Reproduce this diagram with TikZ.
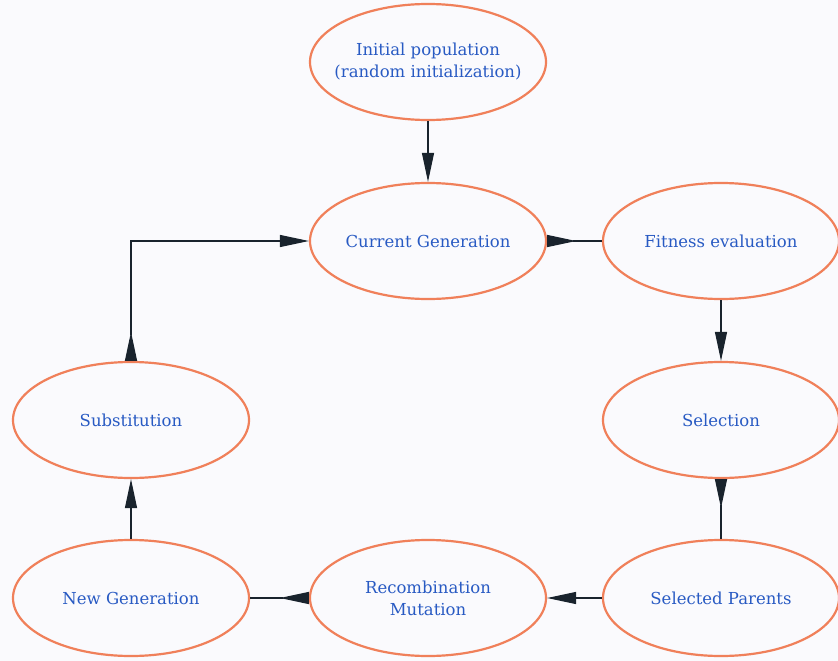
\documentclass[tikz,border=0pt]{standalone}
\usepackage{fontspec}
\setmainfont{DejaVu Serif}
\usetikzlibrary{arrows.meta,shapes.geometric}
\definecolor{edgeor}{RGB}{240,128,90}
\definecolor{txtblue}{RGB}{40,90,195}
\definecolor{linec}{RGB}{25,35,45}
\definecolor{bgc}{RGB}{250,250,253}
\begin{document}
\begin{tikzpicture}[x=1pt,y=-1pt,
  state/.style={ellipse, draw=edgeor, line width=2.2pt, minimum width=236pt, minimum height=116pt, inner sep=0pt, font=\fontsize{16.5}{22}\selectfont, text=txtblue, align=center},
  conn/.style={draw=linec, line width=1.2pt, -{Triangle[length=29pt,width=12pt]}},
  rsconn/.style={draw=linec, line width=1.2pt, {Triangle[length=29pt,width=12pt,reversed]}-},
  bothconn/.style={draw=linec, line width=1.2pt, {Triangle[length=29pt,width=12pt,reversed]}-{Triangle[length=29pt,width=12pt]}}]
\fill[bgc] (0,0) rectangle (838,661);
\useasboundingbox (0,0) rectangle (838,661);
\node[state, inner xsep=-16pt] (init) at (428,62) {Initial population\\(random initialization)};
\node[state] (cur) at (428,241) {Current Generation};
\node[state] (fit) at (721,241) {Fitness evaluation};
\node[state] (sel) at (721,420) {Selection};
\node[state] (par) at (721,598) {Selected Parents};
\node[state] (rec) at (428,598) {Recombination\\Mutation};
\node[state] (new) at (131,598) {New Generation};
\node[state] (sub) at (131,420) {Substitution};
\draw[conn] (init) -- (cur);
\draw[rsconn] (cur) -- (fit);
\draw[conn] (fit) -- (sel);
\draw[rsconn] (sel) -- (par);
\draw[conn] (par) -- (rec);
\draw[rsconn] (rec) -- (new);
\draw[conn] (new) -- (sub);
\draw[bothconn] (sub) |- (cur);
\end{tikzpicture}
\end{document}
